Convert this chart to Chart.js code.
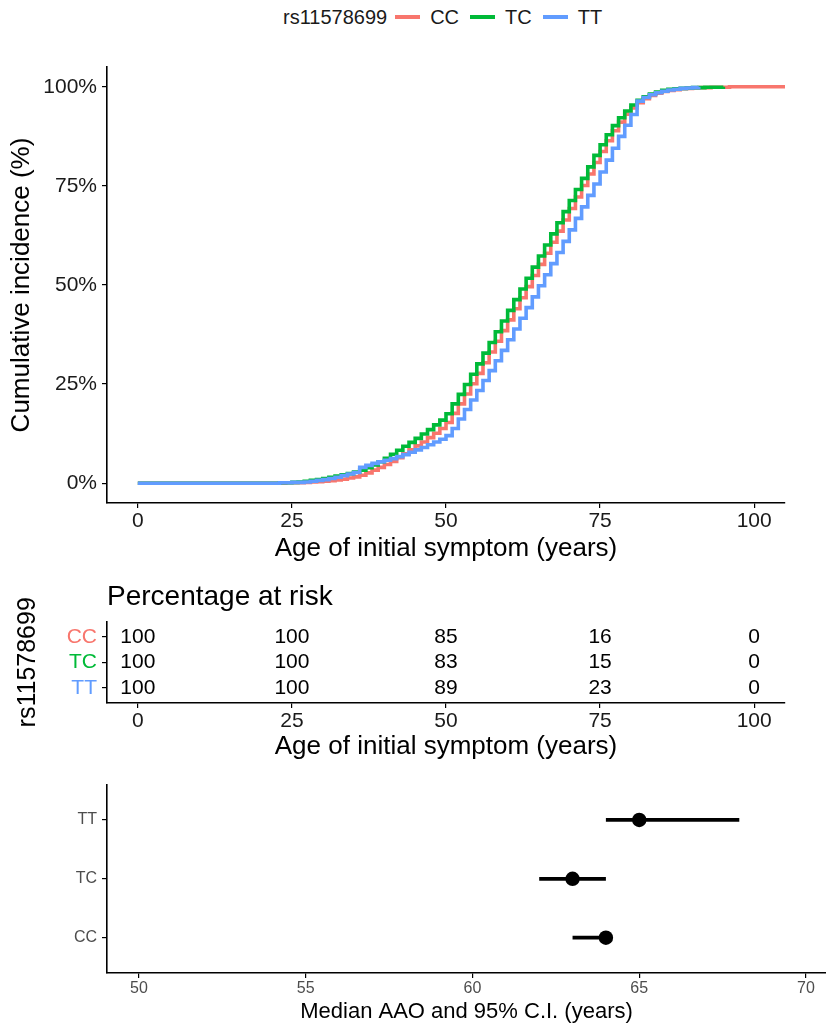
<!DOCTYPE html>
<html><head><meta charset="utf-8">
<script src="https://cdn.jsdelivr.net/npm/chart.js@4.4.1/dist/chart.umd.min.js"></script>
<style>
html,body{margin:0;padding:0;background:#fff;}
#wrap{position:relative;width:826px;height:1026px;overflow:hidden;font-family:'Liberation Sans',Arial,sans-serif;background:#fff;}
canvas{position:absolute;left:0;}
#legend{position:absolute;left:283px;top:5px;height:24px;display:flex;align-items:center;font-size:20px;color:#1a1a1a;white-space:nowrap;}
#legend .key{display:inline-block;width:25px;height:3.5px;margin:0 10px 0 8px;}
#legend .lab{margin-right:3px;}
</style></head><body>
<div id="wrap">
<div id="legend"></div>
<canvas id="c1" width="826" height="530" style="top:40px;width:826px;height:530px"></canvas>
<canvas id="c2" width="826" height="200" style="top:570px;width:826px;height:200px"></canvas>
<canvas id="c3" width="826" height="256" style="top:770px;width:826px;height:256px"></canvas>
</div>
<script>
// ---------- data ----------
const legendTitle = 'rs11578699';
const seriesNames = ['CC', 'TC', 'TT'];
const seriesColors = ['#F8766D', '#00BA38', '#619CFF'];

const ages = [0, 22, 23, 24, 25, 26, 27, 28, 29, 30, 31, 32, 33, 34, 35, 36, 37, 38, 39, 40,
  41, 42, 43, 44, 45, 46, 47, 48, 49, 50, 51, 52, 53, 54, 55, 56, 57, 58, 59, 60,
  61, 62, 63, 64, 65, 66, 67, 68, 69, 70, 71, 72, 73, 74, 75, 76, 77, 78, 79, 80,
  81, 82, 83, 84, 85, 86, 87, 88, 89, 90, 91, 92, 93, 94, 95, 96, 97, 98, 99, 100,
  101, 102, 103, 104, 105];

const incCC = [0, 0.0, 0.0, 0.1, 0.1, 0.1, 0.2, 0.3, 0.4, 0.5, 0.6, 0.8, 1.0, 1.3, 1.6, 2.0, 2.6, 3.3, 4.0, 4.7,
  5.5, 6.4, 7.4, 8.4, 9.4, 10.4, 11.5, 12.6, 13.8, 15.3, 17.6, 20.0, 22.5, 25.1, 27.7, 30.4, 33.1, 35.8, 38.5, 41.2,
  44.0, 46.8, 49.6, 52.4, 55.2, 58.0, 60.8, 63.6, 66.4, 69.3, 72.2, 75.1, 78.0, 80.9, 83.7, 86.4, 88.9, 91.1, 93.1, 94.7,
  96.0, 97.0, 97.8, 98.4, 98.8, 99.1, 99.3, 99.5, 99.6, 99.7, 99.8, 99.8, 99.9, 99.9, 99.9, 100, 100, 100, 100, 100,
  100, 100, 100, 100, 100];

const incTC = [0, 0.0, 0.1, 0.1, 0.2, 0.3, 0.5, 0.7, 0.9, 1.2, 1.5, 1.8, 2.1, 2.4, 2.8, 3.3, 3.9, 4.6, 5.4, 6.3,
  7.3, 8.3, 9.3, 10.3, 11.3, 12.4, 13.5, 14.7, 15.9, 17.5, 20.0, 22.4, 24.9, 27.5, 30.1, 32.8, 35.5, 38.2, 40.9, 43.6,
  46.3, 49.0, 51.7, 54.5, 57.3, 60.1, 62.9, 65.7, 68.5, 71.3, 74.1, 76.9, 79.8, 82.7, 85.4, 87.9, 90.2, 92.2, 93.9, 95.4,
  96.6, 97.5, 98.2, 98.7, 99.1, 99.4, 99.5, 99.6, 99.7, 99.8, 99.8, 99.9, 99.9, 99.9, 100, null, null, null, null, null,
  null, null, null, null, null];

const incTT = [0, 0.0, 0.1, 0.1, 0.2, 0.2, 0.3, 0.5, 0.7, 0.9, 1.2, 1.5, 1.9, 2.3, 2.7, 4.0, 4.5, 5.0, 5.4, 5.8,
  6.2, 6.7, 7.2, 7.8, 8.4, 9.0, 9.7, 10.4, 11.1, 12.0, 13.8, 16.2, 18.6, 21.0, 23.4, 25.9, 28.4, 30.9, 33.5, 36.2,
  38.9, 41.6, 44.3, 47.0, 49.8, 52.6, 55.4, 58.2, 61.0, 63.9, 66.8, 69.7, 72.6, 75.5, 78.5, 81.5, 84.5, 87.5, 90.3, 93.0,
  96.4, 97.3, 98.0, 98.5, 98.9, 99.2, 99.4, 99.6, 99.7, 99.8, 100, null, null, null, null, null, null, null, null, null,
  null, null, null, null, null];

const incTicks = [0, 25, 50, 75, 100];
const ageTicks = [0, 25, 50, 75, 100];

const riskAges = [0, 25, 50, 75, 100];
const riskCC = [100, 100, 85, 16, 0];
const riskTC = [100, 100, 83, 15, 0];
const riskTT = [100, 100, 89, 23, 0];

const forestGroups = ['CC', 'TC', 'TT'];
const forestMedian = [64, 63, 65];
const forestLower = [63, 62, 64];
const forestUpper = [64, 64, 68];
const forestTicks = [50, 55, 60, 65, 70];

// ---------- legend ----------
(function () {
  const lg = document.getElementById('legend');
  const t = document.createElement('span');
  t.textContent = legendTitle;
  lg.appendChild(t);
  seriesNames.forEach((n, k) => {
    const key = document.createElement('span');
    key.className = 'key';
    key.style.background = seriesColors[k];
    lg.appendChild(key);
    const lab = document.createElement('span');
    lab.className = 'lab';
    lab.textContent = n;
    lg.appendChild(lab);
  });
})();

// ---------- common ----------
Chart.defaults.font.family = "'Liberation Sans', Arial, sans-serif";
Chart.defaults.color = '#000';
const fixW = w => s => { s.width = w; };
const fixH = h => s => { s.height = h; };
const setTicks = arr => s => { s.ticks = arr.map(v => ({ value: v })); };
const axisGrid = { display: true, drawOnChartArea: false, drawTicks: true, tickLength: 5, color: '#000', lineWidth: 1.2 };
const axisBorder = { display: true, color: '#000', width: 1.6 };
const basePlugins = { legend: { display: false }, tooltip: { enabled: false }, title: { display: false } };

// ---------- chart 1 : cumulative incidence ----------
const incSeries = [incCC, incTC, incTT];
new Chart(document.getElementById('c1'), {
  type: 'line',
  data: {
    datasets: seriesNames.map((n, k) => ({
      label: n,
      data: ages.map((a, i) => ({ x: a, y: incSeries[k][i] })),
      borderColor: seriesColors[k],
      backgroundColor: seriesColors[k],
      borderWidth: 3.6,
      pointRadius: 0,
      stepped: 'before',
      fill: false,
      spanGaps: false,
      order: 3 - k
    }))
  },
  options: {
    responsive: false, animation: false, events: [],
    layout: { autoPadding: false, padding: { top: 27, right: 41, left: 0, bottom: 0 } },
    plugins: basePlugins,
    scales: {
      x: {
        type: 'linear', min: -5, max: 105,
        afterBuildTicks: setTicks(ageTicks), afterFit: fixH(67),
        grid: axisGrid, border: axisBorder,
        ticks: { font: { size: 21 }, color: '#1a1a1a', padding: 1, maxRotation: 0, callback: v => String(v) },
        title: { display: true, text: 'Age of initial symptom (years)', font: { size: 26 }, color: '#000', padding: { top: 0, bottom: 6 } }
      },
      y: {
        type: 'linear', min: -5, max: 105,
        afterBuildTicks: setTicks(incTicks), afterFit: fixW(107),
        grid: axisGrid, border: axisBorder,
        ticks: { font: { size: 21 }, color: '#1a1a1a', padding: 5, callback: v => v + '%' },
        title: { display: true, text: 'Cumulative incidence (%)', font: { size: 26 }, color: '#000', padding: { top: 6, bottom: 0 } }
      }
    }
  }
});

// ---------- chart 2 : risk table ----------
const riskSeries = [riskCC, riskTC, riskTT];
const riskTextPlugin = {
  id: 'riskText',
  afterDatasetsDraw(chart) {
    const ctx = chart.ctx;
    ctx.save();
    ctx.font = "21px 'Liberation Sans', Arial, sans-serif";
    ctx.fillStyle = '#000';
    ctx.textAlign = 'center';
    ctx.textBaseline = 'middle';
    chart.data.datasets.forEach((ds, k) => {
      const meta = chart.getDatasetMeta(k);
      meta.data.forEach((pt, i) => {
        ctx.fillText(String(ds.data[i].v), pt.x, pt.y);
      });
    });
    ctx.restore();
  }
};
new Chart(document.getElementById('c2'), {
  type: 'scatter',
  data: {
    datasets: seriesNames.map((n, k) => ({
      label: n,
      data: riskAges.map((a, i) => ({ x: a, y: k + 1, v: riskSeries[k][i] })),
      pointRadius: 0
    }))
  },
  options: {
    responsive: false, animation: false, events: [],
    layout: { autoPadding: false, padding: { top: 0, right: 41, left: 0, bottom: 0 } },
    plugins: {
      legend: { display: false }, tooltip: { enabled: false },
      title: { display: true, text: 'Percentage at risk', align: 'start', fullSize: false, font: { size: 28, weight: 'normal' }, color: '#000', padding: { top: 10, bottom: 8 } }
    },
    scales: {
      x: {
        type: 'linear', min: -5, max: 105,
        afterBuildTicks: setTicks(ageTicks), afterFit: fixH(67),
        grid: axisGrid, border: axisBorder,
        ticks: { font: { size: 21 }, color: '#1a1a1a', padding: 1, maxRotation: 0, callback: v => String(v) },
        title: { display: true, text: 'Age of initial symptom (years)', font: { size: 26 }, color: '#000', padding: { top: 0, bottom: 8 } }
      },
      y: {
        type: 'linear', min: 0.4, max: 3.6, reverse: true,
        afterBuildTicks: setTicks([1, 2, 3]), afterFit: fixW(107),
        grid: axisGrid, border: axisBorder,
        ticks: { font: { size: 21 }, color: c => seriesColors[c.tick.value - 1], padding: 5, callback: v => seriesNames[v - 1] },
        title: { display: true, text: legendTitle, font: { size: 25 }, color: '#000', padding: { top: 13, bottom: 0 } }
      }
    }
  },
  plugins: [riskTextPlugin]
});

// ---------- chart 3 : median AAO forest ----------
const forestDatasets = forestGroups.map((g, k) => ({
  type: 'line',
  label: g + ' CI',
  data: [{ x: forestLower[k], y: k + 1 }, { x: forestUpper[k], y: k + 1 }],
  borderColor: '#000', borderWidth: 3.8, pointRadius: 0, borderCapStyle: 'butt'
}));
forestDatasets.push({
  type: 'scatter',
  label: 'median',
  data: forestGroups.map((g, k) => ({ x: forestMedian[k], y: k + 1 })),
  pointRadius: 7.2, backgroundColor: '#000', borderColor: '#000', borderWidth: 0
});
new Chart(document.getElementById('c3'), {
  type: 'scatter',
  data: { datasets: forestDatasets },
  options: {
    responsive: false, animation: false, events: [],
    layout: { autoPadding: false, padding: { top: 11, right: 0, left: 0, bottom: 0 } },
    plugins: basePlugins,
    scales: {
      x: {
        type: 'linear', min: 49.04, max: 70.6,
        afterBuildTicks: setTicks(forestTicks), afterFit: fixH(53),
        grid: axisGrid, border: axisBorder,
        ticks: { font: { size: 16 }, color: '#4D4D4D', padding: 1, maxRotation: 0, callback: v => String(v) },
        title: { display: true, text: 'Median AAO and 95% C.I. (years)', font: { size: 22 }, color: '#000', padding: { top: 0, bottom: 1 } }
      },
      y: {
        type: 'linear', min: 0.4, max: 3.6,
        afterBuildTicks: setTicks([1, 2, 3]), afterFit: fixW(107),
        grid: axisGrid, border: axisBorder,
        ticks: { font: { size: 16 }, color: '#4D4D4D', padding: 5, callback: v => forestGroups[v - 1] }
      }
    }
  }
});
</script>
</body></html>
